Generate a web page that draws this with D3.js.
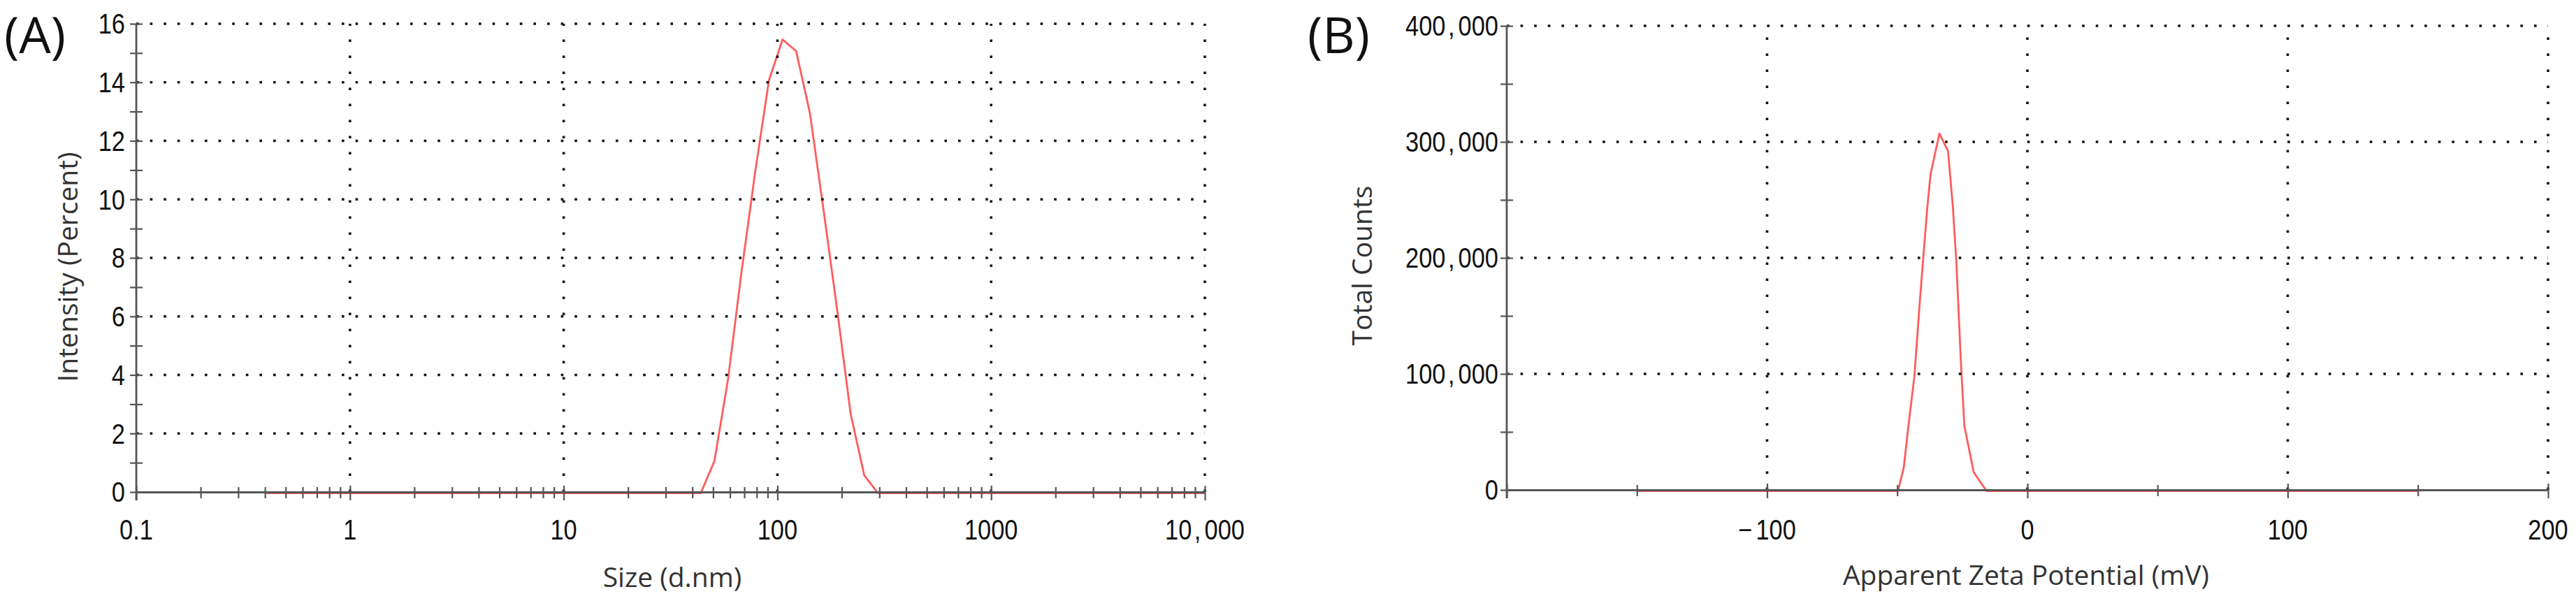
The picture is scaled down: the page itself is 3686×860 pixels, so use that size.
<!DOCTYPE html>
<html><head><meta charset="utf-8">
<script src="https://cdn.jsdelivr.net/npm/d3@7"></script>
<style>
body{margin:0;background:#fff;}
svg{display:block;background:#fff;}
</style></head><body>
<svg id="c" width="3686" height="860"></svg>
<script>
// ---------- Panel A: size distribution by intensity ----------
const sizeNm = [0.4,0.4632,0.5365,0.6213,0.7195,0.8332,0.9649,1.117,1.294,1.499,1.736,2.01,2.328,2.696,3.122,3.615,4.187,4.849,5.615,6.503,7.531,8.721,10.1,11.7,13.54,15.69,18.17,21.04,24.36,28.21,32.67,37.84,43.82,50.75,58.77,68.06,78.82,91.28,105.7,122.4,141.8,164.2,190.1,220.2,255,295.3,342,396.1,458.7,531.2,615.1,712.4,825,955.4,1106,1281,1484,1718,1990,2305,2669,3091,3580,4145,4801,5560,6439,7456,8635,10000];
const intensityPct = [0,0,0,0,0,0,0,0,0,0, 0,0,0,0,0,0,0,0,0,0, 0,0,0,0,0,0,0,0,0,0, 0,0,0,
  1.1,3.9,7.6,11.0,14.1,15.5,15.1,13.0,9.7,6.3,2.7,0.6,
  0,0,0,0,0,0,0,0,0,0, 0,0,0,0,0,0,0,0,0,0, 0,0,0,0,0];
const sizeTickValues = [0.1,1,10,100,1000,10000];
const sizeTickLabels = ["0.1","1","10","100","1000","10,000"];
const intensityTickValues = [0,2,4,6,8,10,12,14,16];
const intensityTickLabels = ["0","2","4","6","8","10","12","14","16"];

// ---------- Panel B: zeta potential distribution ----------
const zetaMv = [-150,-49.7,-47.5,-45.7,-43.4,-41.2,-38.5,-37.2,-33.8,-30.5,-28.7,-27.3,-25.5,-24.2,-20.6,-15.7,150];
const totalCounts = [0,0,20000,56000,99000,167000,243000,273000,308000,293000,247000,198000,109000,56000,16000,0,0];
const zetaTickValues = [-100,0,100,200];
const zetaTickLabels = ["\u2212100","0","100","200"];
const countTickValues = [0,100000,200000,300000,400000];
const countTickLabels = ["0","100,000","200,000","300,000","400,000"];

const svg = d3.select("#c");

const xA = d3.scaleLog().domain([0.1,10000]).range([195,1724]);
const yA = d3.scaleLinear().domain([0,16]).range([704,34]);
const xB = d3.scaleLinear().domain([-200,200]).range([2156,3646]);
const yB = d3.scaleLinear().domain([0,400000]).range([701,37]);

const AXIS = "#555", GRID = "#111", RED = "#ff5c5c";
const TICKFONT = "'Liberation Sans', Arial, sans-serif";
const TITLEFONT = "'Open Sans', 'Noto Sans', sans-serif";

function tickText(g, str, x, y, anchor, dy){
  const t = g.append("text")
    .attr("transform", `translate(${x},${y}) scale(0.86,1)`)
    .attr("text-anchor", anchor)
    .attr("dy", dy)
    .attr("font-family", TICKFONT)
    .attr("font-size", 40)
    .attr("fill", "#111");
  const parts = str.split(/([,\u2212])/).filter(s => s.length);
  let afterSep = false;
  parts.forEach(p => {
    const ts = t.append("tspan").text(p);
    if (p === ",") { ts.attr("dx", 4); afterSep = true; }
    else if (p === "\u2212") { afterSep = true; }
    else if (afterSep) { ts.attr("dx", 6); afterSep = false; }
  });
}

function panel(opt){
  const {x, y, xs, ys, xMajor, xLabels, yMajor, yLabels, xAll, yAll, isMajorX, yGap} = opt;
  const g = svg.append("g");
  const [x0, x1] = x.range();
  const [yb, yt] = y.range();

  // data line
  g.append("path")
    .datum(xs.map((v,i)=>[v, ys[i]]))
    .attr("fill","none").attr("stroke",RED).attr("stroke-width",2.8)
    .attr("stroke-linejoin","round")
    .attr("transform","translate(0,1.5)")
    .attr("d", d3.line().x(d=>x(d[0])).y(d=>y(d[1])));

  // dotted grid
  g.append("g").selectAll("line").data(yMajor.filter(v => v !== y.domain()[0])).join("line")
    .attr("x1", x0).attr("x2", x1).attr("y1", d=>y(d)).attr("y2", d=>y(d))
    .attr("stroke", GRID).attr("stroke-width", 3.6).attr("stroke-dasharray","3.6,16");
  g.append("g").selectAll("line").data(xMajor.filter(v => v !== x.domain()[0])).join("line")
    .attr("x1", d=>x(d)).attr("x2", d=>x(d)).attr("y1", yb).attr("y2", yt)
    .attr("stroke", GRID).attr("stroke-width", 3.6).attr("stroke-dasharray","3.6,19.4");

  // x axis
  const ax = g.append("g").attr("transform", `translate(0,${yb})`)
    .call(d3.axisBottom(x).tickValues(xAll).tickSizeOuter(0).tickFormat(""));
  ax.select(".domain").attr("stroke", AXIS).attr("stroke-width", 2.8);
  ax.selectAll(".tick line").attr("stroke", AXIS).attr("stroke-width", 2.2)
    .attr("y1", d => isMajorX(d) ? -9 : -7).attr("y2", d => isMajorX(d) ? 12 : 9);

  // y axis
  const ay = g.append("g").attr("transform", `translate(${x0},0)`)
    .call(d3.axisLeft(y).tickValues(yAll).tickSizeOuter(0).tickFormat(""));
  ay.select(".domain").attr("stroke", AXIS).attr("stroke-width", 2.8);
  ay.selectAll(".tick line").attr("stroke", AXIS).attr("stroke-width", 2.2)
    .attr("x1", -9).attr("x2", 9);
  ay.select(".domain").attr("d", `M0,${yb+12}V${yt}`);

  // labels
  const lg = g.append("g");
  xMajor.forEach((v,i) => { if (xLabels[i] !== null) tickText(lg, xLabels[i], x(v), 772, "middle", 0); });
  yMajor.forEach((v,i) => tickText(lg, yLabels[i], x0 - yGap, y(v), "end", "0.36em"));
  return g;
}

panel({
  x: xA, y: yA, xs: sizeNm, ys: intensityPct,
  xMajor: sizeTickValues, xLabels: sizeTickLabels,
  yMajor: intensityTickValues, yLabels: intensityTickLabels,
  xAll: xA.ticks(), yAll: yA.ticks(16),
  isMajorX: d => Math.abs(Math.log10(d) - Math.round(Math.log10(d))) < 1e-6,
  yGap: 16
});

panel({
  x: xB, y: yB, xs: zetaMv, ys: totalCounts,
  xMajor: [-200].concat(zetaTickValues), xLabels: [null].concat(zetaTickLabels),
  yMajor: countTickValues, yLabels: countTickLabels,
  xAll: xB.ticks(8), yAll: yB.ticks(8),
  isMajorX: d => d % 100 === 0,
  yGap: 12
});

// titles
function title(str, x, y, rot){
  svg.append("text")
    .attr("transform", `translate(${x},${y})` + (rot ? " rotate(-90)" : ""))
    .attr("text-anchor","middle")
    .attr("font-family", TITLEFONT).attr("font-size", 39).attr("fill","#333")
    .text(str);
}
title("Size (d.nm)", 962, 840, false);
title("Intensity (Percent)", 111, 382, true);
title("Apparent Zeta Potential (mV)", 2899, 837, false);
title("Total Counts", 1963, 380, true);

svg.append("text").attr("x", 6).attr("y", 76)
  .attr("font-family", TITLEFONT).attr("font-size", 72).attr("fill","#111").text("(A)");
svg.append("text").attr("x", 1871).attr("y", 76)
  .attr("font-family", TITLEFONT).attr("font-size", 72).attr("fill","#111").text("(B)");
</script>
</body></html>
